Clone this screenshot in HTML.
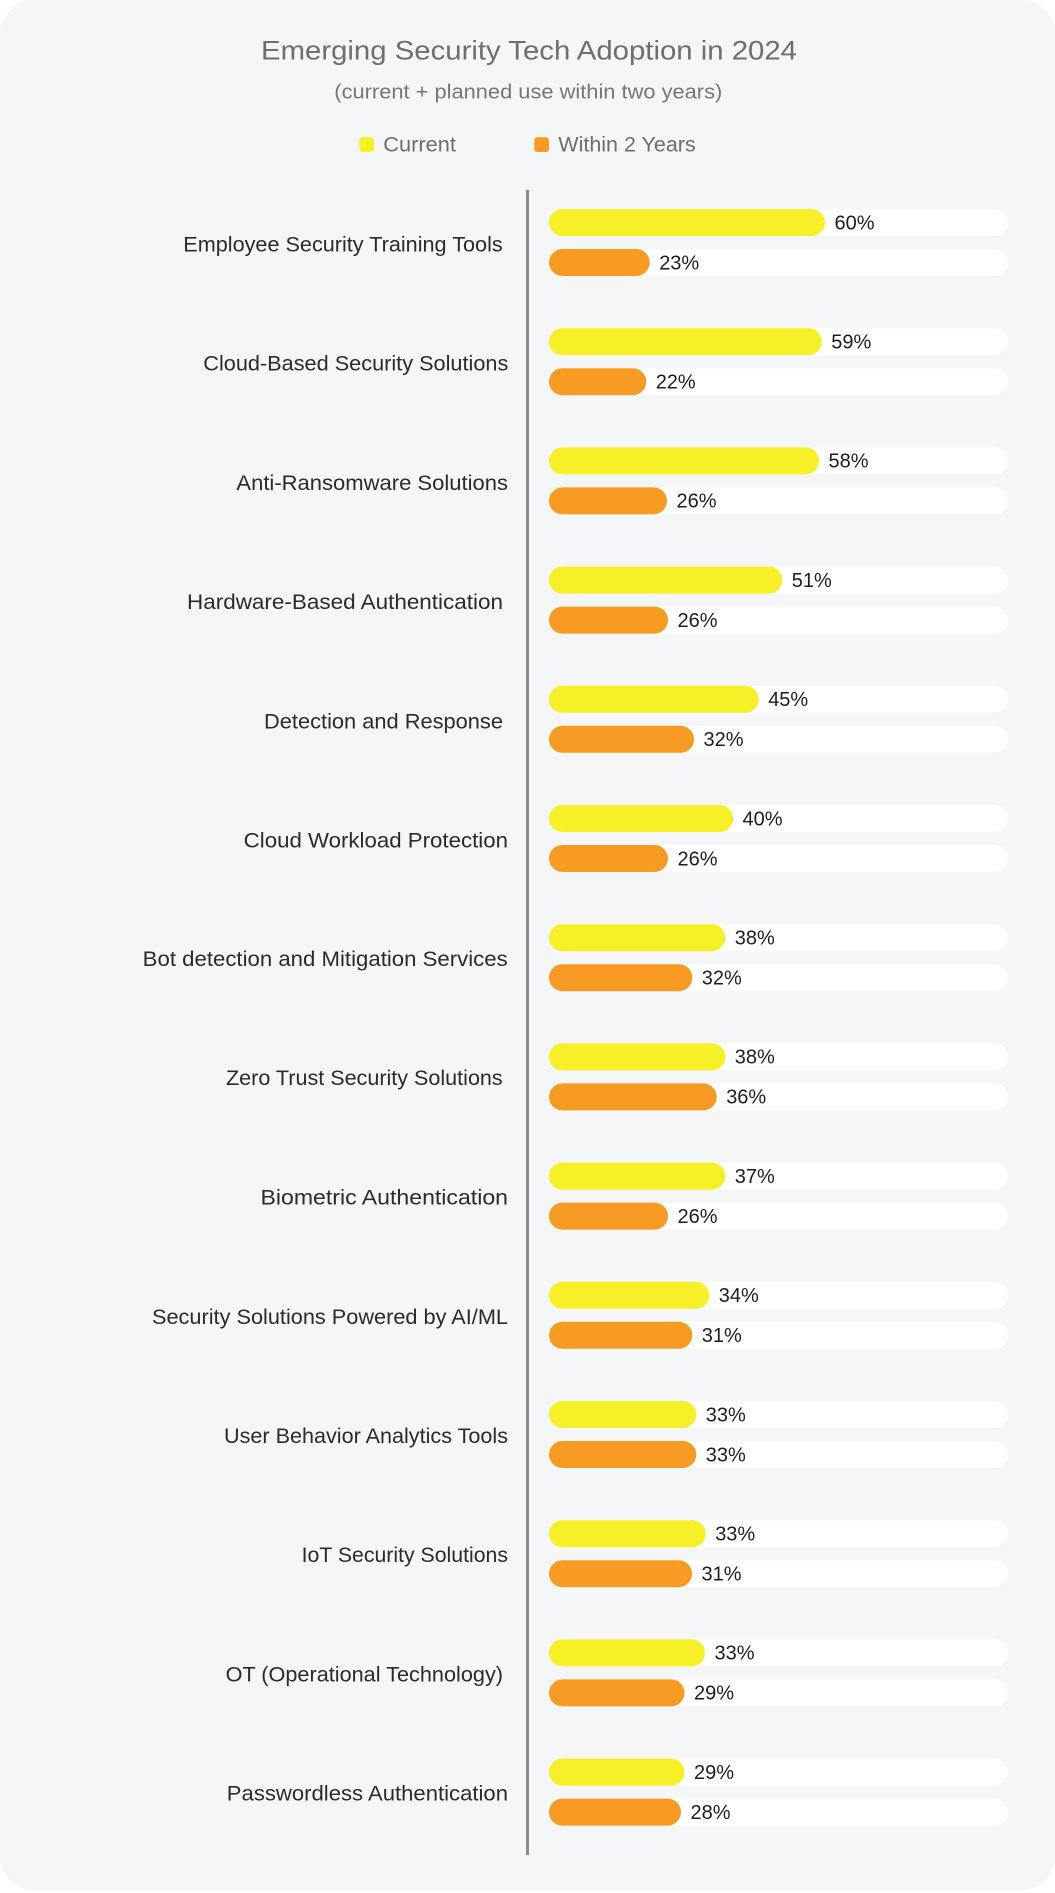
<!DOCTYPE html>
<html>
<head>
<meta charset="utf-8">
<style>
  html,body{margin:0;padding:0;background:#ffffff;}
  body{width:1055px;height:1893px;overflow:hidden;}
  svg{display:block;}
  text{font-family:"Liberation Sans", Arial, sans-serif;}
  .lbl{font-size:21px;fill:#2b2b2b;}
  .pct{font-size:20px;fill:#1e1e1e;}
  .ttl{font-size:27px;fill:#6e6e6e;}
  .sub{font-size:20px;fill:#767676;}
  .leg{font-size:21px;fill:#6e6e6e;}
</style>
</head>
<body>
<svg width="1055" height="1893" viewBox="0 0 1055 1893" xmlns="http://www.w3.org/2000/svg">
  <rect x="0" y="0" width="1055" height="1893" fill="#ffffff"/>
  <rect x="0" y="0" width="1055" height="1890" rx="34" ry="34" fill="#f5f6f8"/>

  <!-- Title -->
  <text class="ttl" x="261" y="59.3" textLength="536" lengthAdjust="spacingAndGlyphs">Emerging Security Tech Adoption in 2024</text>
  <text class="sub" x="334.3" y="98.3" textLength="388" lengthAdjust="spacingAndGlyphs">(current + planned use within two years)</text>

  <!-- Legend -->
  <rect x="359.3" y="137.3" width="14.7" height="14.7" rx="3" fill="#f7ef27"/>
  <text class="leg" x="383.3" y="151.7" textLength="72.7" lengthAdjust="spacingAndGlyphs">Current</text>
  <rect x="534.3" y="137.3" width="14.7" height="14.7" rx="3" fill="#f89b25"/>
  <text class="leg" x="558.3" y="151.7" textLength="137.4" lengthAdjust="spacingAndGlyphs">Within 2 Years</text>

  <!-- Axis line -->
  <rect x="526" y="190" width="3" height="1665" fill="#8c8c8c"/>

  <!-- Row 0 -->
  <g>
    <text class="lbl" x="183.3" y="251.5" textLength="319.4" lengthAdjust="spacingAndGlyphs">Employee Security Training Tools</text>
    <rect x="549" y="209" width="459" height="27" rx="13.5" fill="#ffffff"/>
    <rect x="549" y="209" width="276" height="27" rx="13.5" fill="#f7ef27"/>
    <text class="pct" x="834.5" y="229.3">60%</text>
    <rect x="549" y="249" width="459" height="27" rx="13.5" fill="#ffffff"/>
    <rect x="549" y="249" width="100.7" height="27" rx="13.5" fill="#f89b25"/>
    <text class="pct" x="659.2" y="269.3">23%</text>
  </g>
  <!-- Row 1 -->
  <g>
    <text class="lbl" x="203.3" y="370.7" textLength="305" lengthAdjust="spacingAndGlyphs">Cloud-Based Security Solutions</text>
    <rect x="549" y="328.2" width="459" height="27" rx="13.5" fill="#ffffff"/>
    <rect x="549" y="328.2" width="272.8" height="27" rx="13.5" fill="#f7ef27"/>
    <text class="pct" x="831.3" y="348.5">59%</text>
    <rect x="549" y="368.2" width="459" height="27" rx="13.5" fill="#ffffff"/>
    <rect x="549" y="368.2" width="97.2" height="27" rx="13.5" fill="#f89b25"/>
    <text class="pct" x="655.7" y="388.5">22%</text>
  </g>
  <!-- Row 2 -->
  <g>
    <text class="lbl" x="236.4" y="489.9" textLength="271.6" lengthAdjust="spacingAndGlyphs">Anti-Ransomware Solutions</text>
    <rect x="549" y="447.4" width="459" height="27" rx="13.5" fill="#ffffff"/>
    <rect x="549" y="447.4" width="270" height="27" rx="13.5" fill="#f7ef27"/>
    <text class="pct" x="828.5" y="467.7">58%</text>
    <rect x="549" y="487.4" width="459" height="27" rx="13.5" fill="#ffffff"/>
    <rect x="549" y="487.4" width="118" height="27" rx="13.5" fill="#f89b25"/>
    <text class="pct" x="676.5" y="507.7">26%</text>
  </g>
  <!-- Row 3 -->
  <g>
    <text class="lbl" x="187" y="609.1" textLength="316" lengthAdjust="spacingAndGlyphs">Hardware-Based Authentication</text>
    <rect x="549" y="566.6" width="459" height="27" rx="13.5" fill="#ffffff"/>
    <rect x="549" y="566.6" width="233.3" height="27" rx="13.5" fill="#f7ef27"/>
    <text class="pct" x="791.8" y="586.9">51%</text>
    <rect x="549" y="606.6" width="459" height="27" rx="13.5" fill="#ffffff"/>
    <rect x="549" y="606.6" width="119" height="27" rx="13.5" fill="#f89b25"/>
    <text class="pct" x="677.5" y="626.9">26%</text>
  </g>
  <!-- Row 4 -->
  <g>
    <text class="lbl" x="264" y="728.3" textLength="239" lengthAdjust="spacingAndGlyphs">Detection and Response</text>
    <rect x="549" y="685.8" width="459" height="27" rx="13.5" fill="#ffffff"/>
    <rect x="549" y="685.8" width="209.7" height="27" rx="13.5" fill="#f7ef27"/>
    <text class="pct" x="768.2" y="706.1">45%</text>
    <rect x="549" y="725.8" width="459" height="27" rx="13.5" fill="#ffffff"/>
    <rect x="549" y="725.8" width="145" height="27" rx="13.5" fill="#f89b25"/>
    <text class="pct" x="703.5" y="746.1">32%</text>
  </g>
  <!-- Row 5 -->
  <g>
    <text class="lbl" x="243.7" y="847.5" textLength="264.3" lengthAdjust="spacingAndGlyphs">Cloud Workload Protection</text>
    <rect x="549" y="805" width="459" height="27" rx="13.5" fill="#ffffff"/>
    <rect x="549" y="805" width="184" height="27" rx="13.5" fill="#f7ef27"/>
    <text class="pct" x="742.5" y="825.3">40%</text>
    <rect x="549" y="845" width="459" height="27" rx="13.5" fill="#ffffff"/>
    <rect x="549" y="845" width="119" height="27" rx="13.5" fill="#f89b25"/>
    <text class="pct" x="677.5" y="865.3">26%</text>
  </g>
  <!-- Row 6 -->
  <g>
    <text class="lbl" x="142.7" y="966.2" textLength="365" lengthAdjust="spacingAndGlyphs">Bot detection and Mitigation Services</text>
    <rect x="549" y="924.2" width="459" height="27" rx="13.5" fill="#ffffff"/>
    <rect x="549" y="924.2" width="176.3" height="27" rx="13.5" fill="#f7ef27"/>
    <text class="pct" x="734.8" y="944.5">38%</text>
    <rect x="549" y="964.2" width="459" height="27" rx="13.5" fill="#ffffff"/>
    <rect x="549" y="964.2" width="143.3" height="27" rx="13.5" fill="#f89b25"/>
    <text class="pct" x="701.8" y="984.5">32%</text>
  </g>
  <!-- Row 7 -->
  <g>
    <text class="lbl" x="226" y="1085.2" textLength="276.7" lengthAdjust="spacingAndGlyphs">Zero Trust Security Solutions</text>
    <rect x="549" y="1043.4" width="459" height="27" rx="13.5" fill="#ffffff"/>
    <rect x="549" y="1043.4" width="176.3" height="27" rx="13.5" fill="#f7ef27"/>
    <text class="pct" x="734.8" y="1063.7">38%</text>
    <rect x="549" y="1083.4" width="459" height="27" rx="13.5" fill="#ffffff"/>
    <rect x="549" y="1083.4" width="167.7" height="27" rx="13.5" fill="#f89b25"/>
    <text class="pct" x="726.2" y="1103.7">36%</text>
  </g>
  <!-- Row 8 -->
  <g>
    <text class="lbl" x="260.5" y="1204.6" textLength="247.5" lengthAdjust="spacingAndGlyphs">Biometric Authentication</text>
    <rect x="549" y="1162.6" width="459" height="27" rx="13.5" fill="#ffffff"/>
    <rect x="549" y="1162.6" width="176.3" height="27" rx="13.5" fill="#f7ef27"/>
    <text class="pct" x="734.8" y="1182.9">37%</text>
    <rect x="549" y="1202.6" width="459" height="27" rx="13.5" fill="#ffffff"/>
    <rect x="549" y="1202.6" width="119" height="27" rx="13.5" fill="#f89b25"/>
    <text class="pct" x="677.5" y="1222.9">26%</text>
  </g>
  <!-- Row 9 -->
  <g>
    <text class="lbl" x="152" y="1323.8" textLength="356" lengthAdjust="spacingAndGlyphs">Security Solutions Powered by AI/ML</text>
    <rect x="549" y="1281.8" width="459" height="27" rx="13.5" fill="#ffffff"/>
    <rect x="549" y="1281.8" width="160.3" height="27" rx="13.5" fill="#f7ef27"/>
    <text class="pct" x="718.8" y="1302.1">34%</text>
    <rect x="549" y="1321.8" width="459" height="27" rx="13.5" fill="#ffffff"/>
    <rect x="549" y="1321.8" width="143.3" height="27" rx="13.5" fill="#f89b25"/>
    <text class="pct" x="701.8" y="1342.1">31%</text>
  </g>
  <!-- Row 10 -->
  <g>
    <text class="lbl" x="224" y="1443" textLength="284" lengthAdjust="spacingAndGlyphs">User Behavior Analytics Tools</text>
    <rect x="549" y="1401" width="459" height="27" rx="13.5" fill="#ffffff"/>
    <rect x="549" y="1401" width="147.3" height="27" rx="13.5" fill="#f7ef27"/>
    <text class="pct" x="705.8" y="1421.3">33%</text>
    <rect x="549" y="1441" width="459" height="27" rx="13.5" fill="#ffffff"/>
    <rect x="549" y="1441" width="147.3" height="27" rx="13.5" fill="#f89b25"/>
    <text class="pct" x="705.8" y="1461.3">33%</text>
  </g>
  <!-- Row 11 -->
  <g>
    <text class="lbl" x="301.6" y="1562.2" textLength="206.4" lengthAdjust="spacingAndGlyphs">IoT Security Solutions</text>
    <rect x="549" y="1520.2" width="459" height="27" rx="13.5" fill="#ffffff"/>
    <rect x="549" y="1520.2" width="156.7" height="27" rx="13.5" fill="#f7ef27"/>
    <text class="pct" x="715.2" y="1540.5">33%</text>
    <rect x="549" y="1560.2" width="459" height="27" rx="13.5" fill="#ffffff"/>
    <rect x="549" y="1560.2" width="143" height="27" rx="13.5" fill="#f89b25"/>
    <text class="pct" x="701.5" y="1580.5">31%</text>
  </g>
  <!-- Row 12 -->
  <g>
    <text class="lbl" x="225.6" y="1681.4" textLength="277.4" lengthAdjust="spacingAndGlyphs">OT (Operational Technology)</text>
    <rect x="549" y="1639.4" width="459" height="27" rx="13.5" fill="#ffffff"/>
    <rect x="549" y="1639.4" width="156" height="27" rx="13.5" fill="#f7ef27"/>
    <text class="pct" x="714.5" y="1659.7">33%</text>
    <rect x="549" y="1679.4" width="459" height="27" rx="13.5" fill="#ffffff"/>
    <rect x="549" y="1679.4" width="135.5" height="27" rx="13.5" fill="#f89b25"/>
    <text class="pct" x="694" y="1699.7">29%</text>
  </g>
  <!-- Row 13 -->
  <g>
    <text class="lbl" x="226.8" y="1800.6" textLength="281.2" lengthAdjust="spacingAndGlyphs">Passwordless Authentication</text>
    <rect x="549" y="1758.6" width="459" height="27" rx="13.5" fill="#ffffff"/>
    <rect x="549" y="1758.6" width="135.5" height="27" rx="13.5" fill="#f7ef27"/>
    <text class="pct" x="694" y="1778.9">29%</text>
    <rect x="549" y="1798.6" width="459" height="27" rx="13.5" fill="#ffffff"/>
    <rect x="549" y="1798.6" width="132" height="27" rx="13.5" fill="#f89b25"/>
    <text class="pct" x="690.5" y="1818.9">28%</text>
  </g>
</svg>
</body>
</html>
